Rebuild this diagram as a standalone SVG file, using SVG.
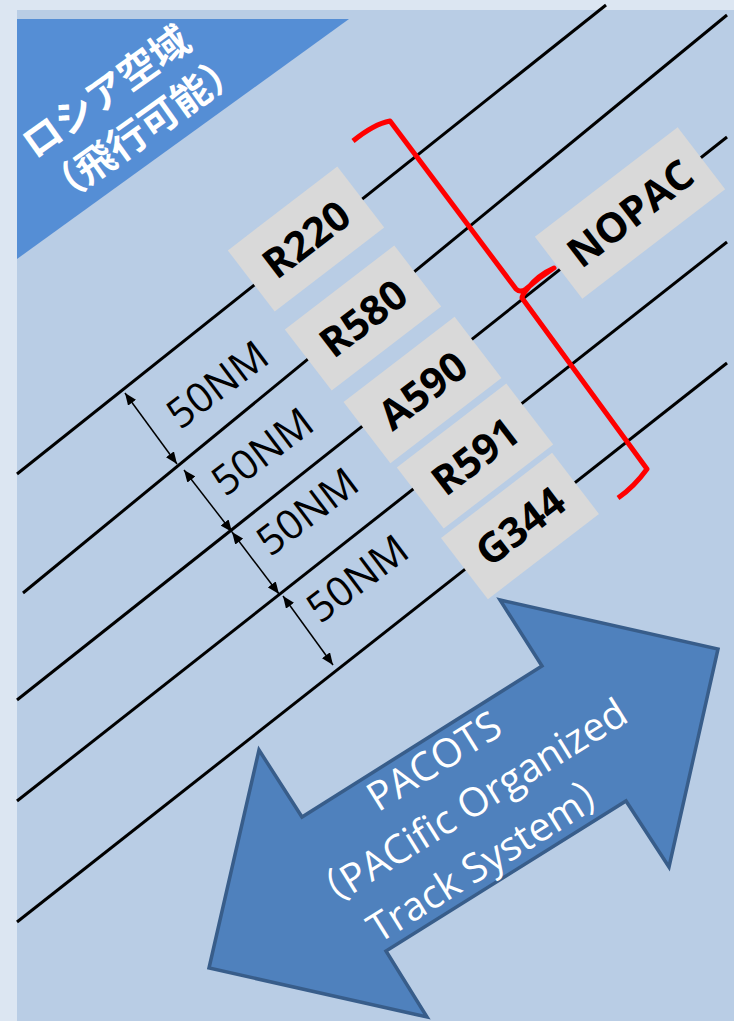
<svg xmlns="http://www.w3.org/2000/svg" width="734" height="1021" viewBox="0 0 734 1021">
<defs>
<style>
.track{stroke:#000;stroke-width:3;fill:none}
.box{fill:#d9d9d9}
.lbl{font-family:"Open Sans","Liberation Sans",sans-serif;font-weight:bold;font-size:41px;fill:#000;text-anchor:middle}
.nm{font-family:"Open Sans","Liberation Sans",sans-serif;font-size:41px;fill:#000;text-anchor:middle}
.dim{stroke:#000;stroke-width:1.5;fill:none;marker-start:url(#ah);marker-end:url(#ah)}
.ru{font-family:"Noto Sans CJK JP",sans-serif;font-size:39px;font-weight:bold;fill:#fff;text-anchor:middle}
.pac{font-family:"Open Sans","Liberation Sans","Noto Sans CJK JP",sans-serif;font-size:40px;fill:#fff;text-anchor:middle}
</style>
<marker id="ah" viewBox="0 0 12 10" refX="12" refY="5" markerWidth="12" markerHeight="10" markerUnits="userSpaceOnUse" orient="auto-start-reverse">
<path d="M0,0 L12,5 L0,10 z" fill="#000"/>
</marker>
</defs>
<rect x="0" y="0" width="734" height="1021" fill="#dce6f2"/>
<rect x="17" y="10" width="717" height="1011" fill="#b9cde5"/>

<g id="russia">
<polygon points="17,19 349,19 17,259" fill="#558ed5"/>
<text class="ru" transform="translate(106,92) rotate(-35.5)" y="14">ロシア空域</text>
<text class="ru" transform="translate(143,129) rotate(-35.5)" y="14">（飛行可能）</text>
</g>

<g id="tracks">
<line class="track" x1="17" y1="474" x2="606" y2="5"/>
<line class="track" x1="23" y1="593" x2="727" y2="15"/>
<line class="track" x1="17" y1="700" x2="727" y2="137"/>
<line class="track" x1="17" y1="801" x2="727" y2="242"/>
<line class="track" x1="17" y1="922" x2="727" y2="363"/>
</g>

<g id="connectors">
<line class="dim" x1="125" y1="393" x2="177" y2="464"/>
<line class="dim" x1="184" y1="470" x2="232" y2="532"/>
<line class="dim" x1="232" y1="532" x2="279" y2="594"/>
<line class="dim" x1="283" y1="596" x2="333" y2="665"/>
</g>

<g id="nm-labels">
<text class="nm" transform="translate(217,384) rotate(-37)" y="15">50NM</text>
<text class="nm" transform="translate(262,451) rotate(-37)" y="15">50NM</text>
<text class="nm" transform="translate(307,511) rotate(-37)" y="15">50NM</text>
<text class="nm" transform="translate(357,578) rotate(-37)" y="15">50NM</text>
</g>

<g id="R220" transform="translate(306,239) rotate(-37.5)">
<rect class="box" x="-69" y="-38.5" width="138" height="77"/>
<text class="lbl" y="15">R220</text>
</g>
<g id="R580" transform="translate(363,318) rotate(-37.5)">
<rect class="box" x="-69" y="-38.5" width="138" height="77"/>
<text class="lbl" y="15">R580</text>
</g>
<g id="A590" transform="translate(422.5,390) rotate(-37.5)">
<rect class="box" x="-70" y="-38.5" width="140" height="77"/>
<text class="lbl" y="15">A590</text>
</g>
<g id="R591" transform="translate(475,456) rotate(-37.5)">
<rect class="box" x="-69" y="-38.5" width="138" height="77"/>
<text class="lbl" y="15">R591</text>
</g>
<g id="G344" transform="translate(520,526) rotate(-37.5)">
<rect class="box" x="-70" y="-38.5" width="140" height="77"/>
<text class="lbl" y="15">G344</text>
</g>
<g id="NOPAC" transform="translate(630,213) rotate(-37.5)">
<rect class="box" x="-90" y="-39" width="180" height="78"/>
<text class="lbl" y="15">NOPAC</text>
</g>

<g id="brace">
<path d="M353,141 Q374,124 390,121 L516,289 Q520,293 526,289 Q540,277 554,268 Q538,275 528,288 Q522,295 522,298 L647,469 Q634,487 618,498" fill="none" stroke="#ff0000" stroke-width="5" stroke-linejoin="round"/>
</g>

<g id="PACOTS">
<polygon points="209,968 259,750 302,817 542,666 500,600 718,649 669,867 626,801 386,951 427,1017" fill="#4f81bd" stroke="#385d8a" stroke-width="3.5"/>
<text class="pac" transform="translate(434,761) rotate(-32)" y="14">PACOTS</text>
<text class="pac" transform="translate(468,809) rotate(-32)" y="11">（PACific Organized</text>
<text class="pac" transform="translate(494,859) rotate(-32)" y="11">Track System）</text>
</g>
</svg>
